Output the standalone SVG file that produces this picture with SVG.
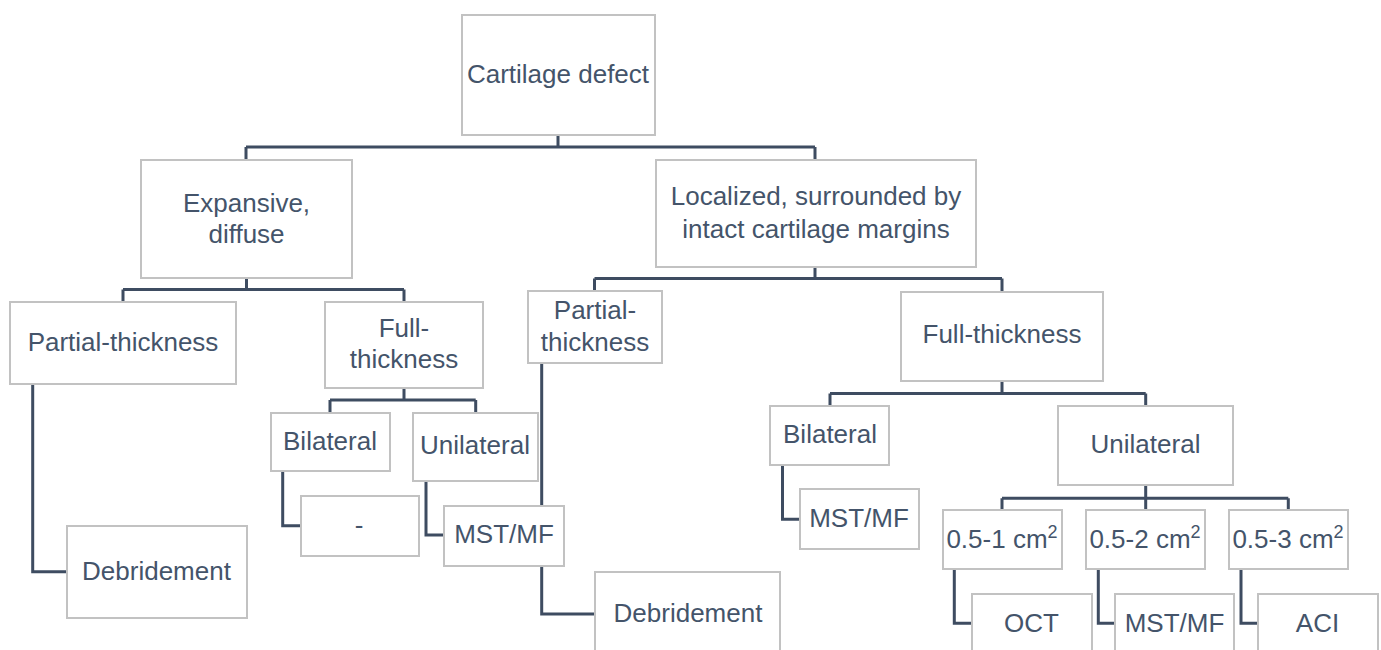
<svg xmlns="http://www.w3.org/2000/svg" width="1381" height="650" viewBox="0 0 1381 650">
<style>
.bx{fill:#ffffff;stroke:#c2c2c2;stroke-width:2}
.t{font-family:"Liberation Sans",Arial,sans-serif;font-size:26px;fill:#44546a;text-anchor:middle}
.c{fill:none;stroke:#3e4c61;stroke-width:3;stroke-linejoin:miter;stroke-linecap:butt}
.sup{font-size:18px}
</style>
<rect width="1381" height="650" fill="#ffffff"/>
<g id="connectors">
<path class="c" d="M558,135 V147 M246,147 H815 M246,147 V160 M815,147 V160"/>
<path class="c" d="M246.5,278 V289.5 M123,289.5 H404 M123,289.5 V302 M404,289.5 V302"/>
<path class="c" d="M815,267 V278.5 M594.5,278.5 H1002 M594.5,278.5 V291 M1002,278.5 V292"/>
<path class="c" d="M32.7,384 V571.7 H67"/>
<path class="c" d="M404,388 V400 M330,400 H475.7 M330,400 V413 M475.7,400 V413"/>
<path class="c" d="M282.7,471 V525.7 H301"/>
<path class="c" d="M426,481 V535 H444"/>
<path class="c" d="M541.7,363 V614 H595"/>
<path class="c" d="M1002,381 V393.5 M830,393.5 H1145.7 M830,393.5 V406 M1145.7,393.5 V406"/>
<path class="c" d="M782.5,465 V519.3 H800"/>
<path class="c" d="M1145.7,485 V498.3 M1002,498.3 H1288.3 M1002,498.3 V510 M1145.7,498.3 V510 M1288.3,498.3 V510"/>
<path class="c" d="M954.3,569 V623.3 H972"/>
<path class="c" d="M1098.3,569 V623.3 H1115"/>
<path class="c" d="M1241,569 V623.3 H1258"/>
</g>
<g id="n-root"><rect class="bx" x="462" y="15" width="193" height="120"/><text class="t" x="558" y="83">Cartilage defect</text></g>
<g id="n-expansive"><rect class="bx" x="141" y="160" width="211" height="118"/><text class="t"><tspan x="246.5" y="212">Expansive,</tspan><tspan x="246.5" y="243">diffuse</tspan></text></g>
<g id="n-localized"><rect class="bx" x="656" y="160" width="320" height="107"/><text class="t"><tspan x="816" y="205">Localized, surrounded by</tspan><tspan x="816" y="238">intact cartilage margins</tspan></text></g>
<g id="n-l-partial"><rect class="bx" x="10" y="302" width="226" height="82"/><text class="t" x="123" y="351">Partial-thickness</text></g>
<g id="n-l-full"><rect class="bx" x="325" y="302" width="158" height="86"/><text class="t"><tspan x="404" y="337">Full-</tspan><tspan x="404" y="368">thickness</tspan></text></g>
<g id="n-r-partial"><rect class="bx" x="528" y="291" width="134" height="72"/><text class="t"><tspan x="595" y="319">Partial-</tspan><tspan x="595" y="351">thickness</tspan></text></g>
<g id="n-r-full"><rect class="bx" x="901" y="292" width="202" height="89"/><text class="t" x="1002" y="343">Full-thickness</text></g>
<g id="n-l-bilateral"><rect class="bx" x="271" y="413" width="119" height="58"/><text class="t" x="330" y="450">Bilateral</text></g>
<g id="n-l-unilateral"><rect class="bx" x="413" y="413" width="125" height="68"/><text class="t" x="475" y="454">Unilateral</text></g>
<g id="n-l-dash"><rect class="bx" x="301" y="496" width="118" height="60"/><text class="t" x="359" y="534">-</text></g>
<g id="n-l-mstmf"><rect class="bx" x="444" y="506" width="120" height="60"/><text class="t" x="504" y="543">MST/MF</text></g>
<g id="n-l-debridement"><rect class="bx" x="67" y="526" width="180" height="92"/><text class="t" x="156.5" y="580">Debridement</text></g>
<g id="n-r-debridement"><rect class="bx" x="595" y="572" width="185" height="100"/><text class="t" x="688" y="622">Debridement</text></g>
<g id="n-r-bilateral"><rect class="bx" x="770" y="406" width="119" height="59"/><text class="t" x="830" y="443">Bilateral</text></g>
<g id="n-r-mstmf"><rect class="bx" x="800" y="489" width="119" height="60"/><text class="t" x="859" y="527">MST/MF</text></g>
<g id="n-r-unilateral"><rect class="bx" x="1058" y="406" width="175" height="79"/><text class="t" x="1145.5" y="453">Unilateral</text></g>
<g id="n-size1"><rect class="bx" x="943" y="510" width="119" height="59"/><text class="t" x="1002" y="548">0.5-1 cm<tspan class="sup" dy="-10">2</tspan></text></g>
<g id="n-size2"><rect class="bx" x="1086" y="510" width="119" height="59"/><text class="t" x="1145" y="548">0.5-2 cm<tspan class="sup" dy="-10">2</tspan></text></g>
<g id="n-size3"><rect class="bx" x="1229" y="510" width="119" height="59"/><text class="t" x="1288" y="548">0.5-3 cm<tspan class="sup" dy="-10">2</tspan></text></g>
<g id="n-oct"><rect class="bx" x="972" y="594" width="120" height="80"/><text class="t" x="1031.5" y="632">OCT</text></g>
<g id="n-mstmf3"><rect class="bx" x="1115" y="594" width="119" height="80"/><text class="t" x="1174.5" y="632">MST/MF</text></g>
<g id="n-aci"><rect class="bx" x="1258" y="594" width="120" height="80"/><text class="t" x="1317.5" y="632">ACI</text></g>
</svg>
